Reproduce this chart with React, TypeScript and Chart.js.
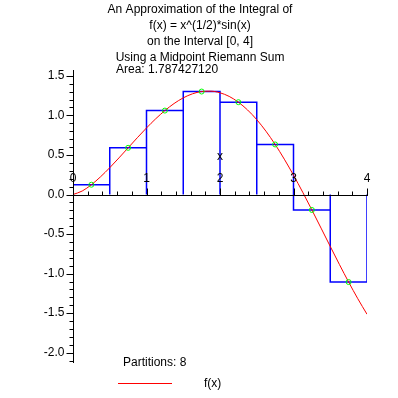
import React, { useEffect, useRef } from "react";
import { Chart, registerables } from "chart.js";

Chart.register(...registerables);

const titleLines = [
  "An Approximation of the Integral of",
  "f(x) = x^(1/2)*sin(x)",
  "on the Interval [0, 4]",
  "Using a Midpoint Riemann Sum",
];
const areaLabel = "Area: 1.787427120";
const partitionsLabel = "Partitions: 8";
const seriesName = "f(x)";
const xAxisTitle = "x";

const curveX = [
  0, 0.125, 0.25, 0.375, 0.5, 0.625, 0.75, 0.875, 1, 1.125, 1.25, 1.375, 1.5, 1.625, 1.75, 1.875, 2,
  2.125, 2.25, 2.375, 2.5, 2.625, 2.75, 2.875, 3, 3.125, 3.25, 3.375, 3.5, 3.625, 3.75, 3.875, 4,
];
const curveY = [
  0, 0.0441, 0.1237, 0.2243, 0.339, 0.4626, 0.5903, 0.718, 0.8415, 0.957, 1.061, 1.1502, 1.2217,
  1.2729, 1.3017, 1.3064, 1.2859, 1.2401, 1.1671, 1.0688, 0.9463, 0.8003, 0.6329, 0.4467, 0.2444,
  0.0293, -0.1951, -0.4249, -0.6563, -0.885, -1.1068, -1.3177, -1.5136,
];

const partitionEdges = [0, 0.5, 1, 1.5, 2, 2.5, 3, 3.5, 4];
const midpoints = [0.25, 0.75, 1.25, 1.75, 2.25, 2.75, 3.25, 3.75];
const midpointHeights = [0.1237, 0.5903, 1.061, 1.3017, 1.1671, 0.6329, -0.1951, -1.1068];

const xTickValues = [0, 1, 2, 3, 4];
const xTickLabels = ["0", "1", "2", "3", "4"];
const yTickValues = [1.5, 1.0, 0.5, 0.0, -0.5, -1.0, -1.5, -2.0];
const yTickLabels = ["1.5", "1.0", "0.5", "0.0", "-0.5", "-1.0", "-1.5", "-2.0"];

const X_MIN = 0;
const X_MAX = 4;
const Y_MIN = -2.13;
const Y_MAX = 1.574;

const FONT = "12px 'Liberation Sans', Arial, sans-serif";

function buildRectOutline() {
  const pts: { x: number; y: number }[] = [{ x: partitionEdges[0], y: 0 }];
  for (let i = 0; i < midpointHeights.length; i++) {
    const a = partitionEdges[i];
    const b = partitionEdges[i + 1];
    const h = midpointHeights[i];
    pts.push({ x: a, y: h });
    pts.push({ x: b, y: h });
    pts.push({ x: b, y: 0 });
  }
  return pts;
}

const axesPlugin = {
  id: "mapleAxes",
  afterDatasetsDraw(chart: any) {
    const ctx = chart.ctx as CanvasRenderingContext2D;
    const xs = chart.scales.x;
    const ys = chart.scales.y;
    const px = (v: number) => Math.round(xs.getPixelForValue(v)) + 0.5;
    const py = (v: number) => Math.round(ys.getPixelForValue(v)) + 0.5;
    const x0 = px(0);
    const y0 = py(0);
    const area = chart.chartArea;
    ctx.save();
    ctx.strokeStyle = "#000";
    ctx.lineWidth = 1;
    ctx.beginPath();
    ctx.moveTo(x0, Math.round(area.top));
    ctx.lineTo(x0, Math.round(area.bottom));
    ctx.moveTo(Math.round(area.left), y0);
    ctx.lineTo(Math.round(area.right) + 1, y0);
    for (let k = 0; k <= 20; k++) {
      const v = X_MIN + k * 0.2;
      const x = px(v);
      const major = k % 5 === 0;
      ctx.moveTo(x, y0);
      ctx.lineTo(x, y0 - (major ? 7 : 4));
    }
    for (let k = -21; k <= 15; k++) {
      const v = k / 10;
      const y = py(v);
      const major = k % 5 === 0;
      ctx.moveTo(x0, y);
      ctx.lineTo(x0 - (major ? 7 : 4), y);
    }
    ctx.stroke();

    ctx.fillStyle = "#000";
    ctx.font = FONT;
    ctx.textBaseline = "middle";
    ctx.textAlign = "center";
    xTickValues.forEach((v, i) => {
      ctx.fillText(xTickLabels[i], xs.getPixelForValue(v), y0 - 17);
    });
    ctx.textAlign = "right";
    yTickValues.forEach((v, i) => {
      ctx.fillText(yTickLabels[i], x0 - 9, ys.getPixelForValue(v));
    });
    ctx.textAlign = "center";
    ctx.fillText(xAxisTitle, xs.getPixelForValue(2), 157);
    ctx.restore();
  },
  afterDraw(chart: any) {
    const ctx = chart.ctx as CanvasRenderingContext2D;
    ctx.save();
    ctx.fillStyle = "#000";
    ctx.font = FONT;
    ctx.textBaseline = "middle";
    ctx.textAlign = "center";
    const titleY = [9.5, 25.5, 41.5, 58];
    titleLines.forEach((t, i) => ctx.fillText(t, 200, titleY[i]));
    ctx.textAlign = "left";
    ctx.fillText(areaLabel, 116, 70);
    ctx.fillText(partitionsLabel, 123, 363);
    ctx.fillText(seriesName, 204, 384);
    ctx.fillStyle = "#ff0000";
    ctx.fillRect(118, 383, 54, 1);
    ctx.restore();
  },
};

export default function App() {
  const canvasRef = useRef<HTMLCanvasElement | null>(null);

  useEffect(() => {
    const canvas = canvasRef.current;
    if (!canvas) return;
    const chart = new Chart(canvas, {
      type: "line",
      data: {
        datasets: [
          {
            label: "Riemann rectangles",
            data: buildRectOutline(),
            borderColor: "#0000ff",
            borderWidth: 1.5,
            pointRadius: 0,
            fill: false,
            tension: 0,
            order: 3,
          },
          {
            label: seriesName,
            data: curveX.map((x, i) => ({ x, y: curveY[i] })),
            borderColor: "#ff0000",
            borderWidth: 1,
            pointRadius: 0,
            fill: false,
            cubicInterpolationMode: "monotone",
            order: 2,
          },
          {
            label: "Midpoints",
            data: midpoints.map((x, i) => ({ x, y: midpointHeights[i] })),
            showLine: false,
            pointStyle: "circle",
            pointRadius: 2.5,
            pointBorderWidth: 1,
            pointBorderColor: "#00ff00",
            pointBackgroundColor: "rgba(0,0,0,0)",
            order: 1,
          },
        ],
      },
      options: {
        animation: false,
        responsive: false,
        devicePixelRatio: 1,
        layout: { padding: { left: 73, right: 31, top: 70, bottom: 35 } },
        plugins: {
          legend: { display: false },
          title: { display: false },
          tooltip: { enabled: false },
        },
        scales: {
          x: { type: "linear", min: X_MIN, max: X_MAX, display: false },
          y: { type: "linear", min: Y_MIN, max: Y_MAX, display: false },
        },
      },
      plugins: [axesPlugin],
    });
    return () => chart.destroy();
  }, []);

  return (
    <div style={{ position: "fixed", left: 0, top: 0, width: 398, height: 398, background: "#fff" }}>
      <canvas ref={canvasRef} width={398} height={398} />
    </div>
  );
}
